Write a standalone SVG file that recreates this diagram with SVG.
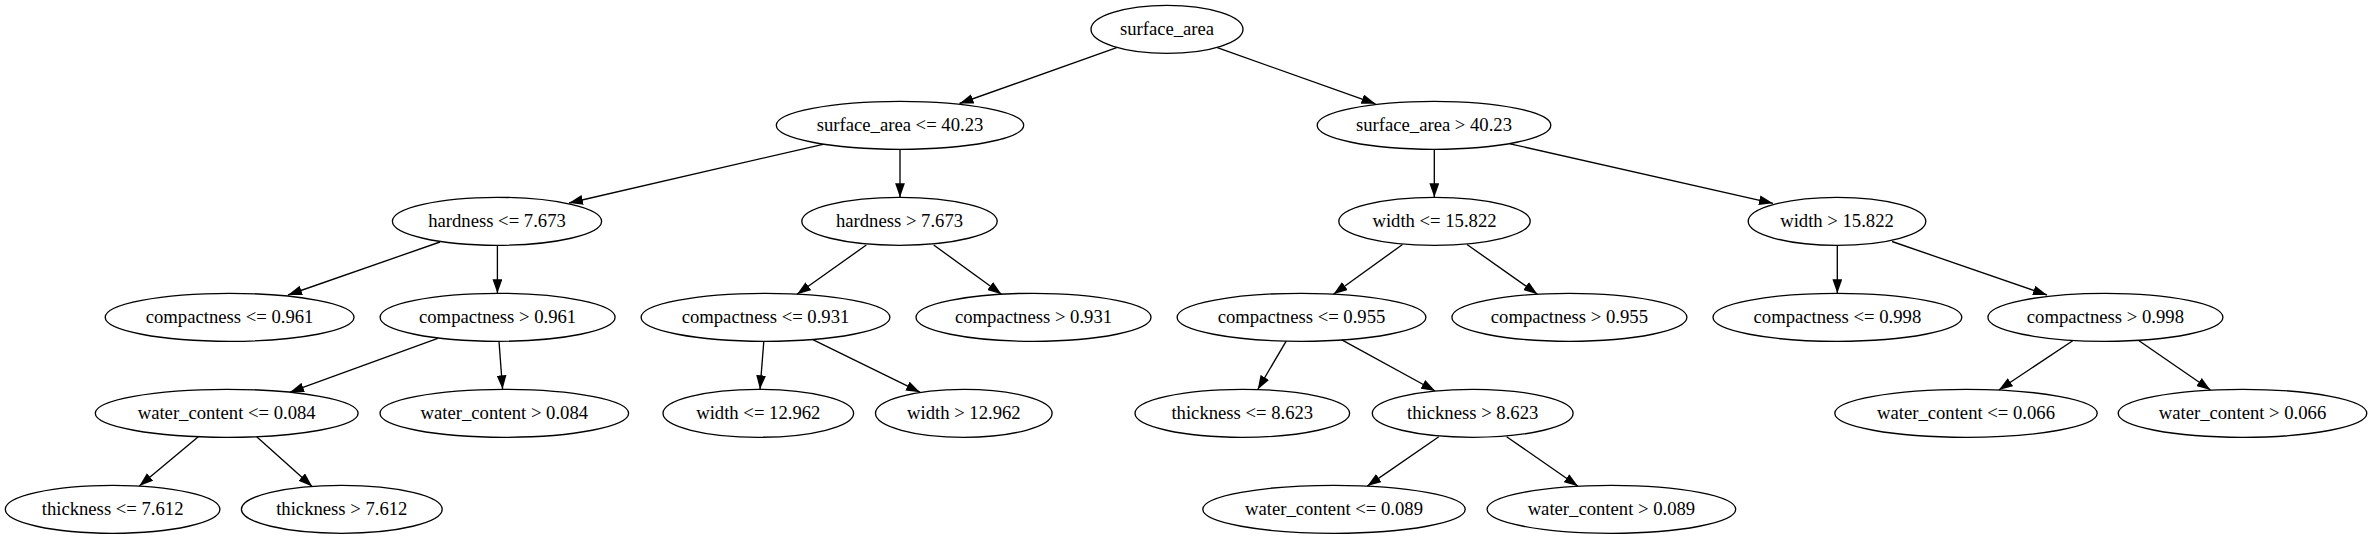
<svg xmlns="http://www.w3.org/2000/svg" width="2372" height="539" viewBox="0 0 2372 539">
<style>
.n ellipse{fill:none;stroke:#000;stroke-width:1.33}
.n text{font-family:"Liberation Serif","Times New Roman",serif;font-size:18.67px;text-anchor:middle;fill:#000}
#edges line{stroke:#000;stroke-width:1.33;marker-end:url(#ah)}
</style>
<defs>
<marker id="ah" markerUnits="userSpaceOnUse" markerWidth="14" markerHeight="10" refX="13.33" refY="4.67" orient="auto" viewBox="0 0 13.33 9.33">
<path d="M0,0 L13.33,4.67 L0,9.33 z" fill="#000"/>
</marker>
</defs>
<rect width="2372" height="539" fill="#fff"/>
<g id="edges">
<line x1="1116.7" y1="47.7" x2="959.5" y2="103.5"/>
<line x1="1217.3" y1="47.7" x2="1375.5" y2="103.8"/>
<line x1="823" y1="144.3" x2="569" y2="203"/>
<line x1="900" y1="149.3" x2="900" y2="197.3"/>
<line x1="1434.3" y1="149.3" x2="1434.3" y2="197.3"/>
<line x1="1510" y1="143.8" x2="1773" y2="203.3"/>
<line x1="440" y1="242" x2="288" y2="295"/>
<line x1="497.4" y1="245.3" x2="497.4" y2="293.3"/>
<line x1="866.3" y1="245" x2="797" y2="294.3"/>
<line x1="933.7" y1="245" x2="1001.5" y2="294.2"/>
<line x1="1402.5" y1="244.5" x2="1333.5" y2="294.2"/>
<line x1="1467" y1="244.5" x2="1537.5" y2="294.2"/>
<line x1="1837.3" y1="245.3" x2="1837.3" y2="293.3"/>
<line x1="1892" y1="241.5" x2="2047" y2="295"/>
<line x1="437.8" y1="338.3" x2="290" y2="392.2"/>
<line x1="499" y1="341.5" x2="502.6" y2="389.3"/>
<line x1="763.8" y1="341.5" x2="760" y2="389.3"/>
<line x1="812.8" y1="339.7" x2="920" y2="392.2"/>
<line x1="1286.2" y1="341.2" x2="1257.7" y2="389.5"/>
<line x1="1341.8" y1="339.8" x2="1435.2" y2="391"/>
<line x1="2072.7" y1="340.7" x2="1998.8" y2="390"/>
<line x1="2139" y1="340.7" x2="2210.5" y2="390"/>
<line x1="198.3" y1="436.7" x2="139.3" y2="486"/>
<line x1="256.7" y1="436.7" x2="312.2" y2="486.4"/>
<line x1="1438.8" y1="436.7" x2="1367.3" y2="486.1"/>
<line x1="1506.6" y1="436.7" x2="1578" y2="486.2"/>
</g>
<g id="n0" class="n"><ellipse cx="1167" cy="29.3" rx="76" ry="24"/><text x="1167" y="35.3">surface_area</text></g>
<g id="n1" class="n"><ellipse cx="900" cy="125.3" rx="123.7" ry="24"/><text x="900" y="131.3">surface_area &lt;= 40.23</text></g>
<g id="n2" class="n"><ellipse cx="1434" cy="125.3" rx="116.8" ry="24"/><text x="1434" y="131.3">surface_area &gt; 40.23</text></g>
<g id="n3" class="n"><ellipse cx="497" cy="221.3" rx="104.6" ry="24"/><text x="497" y="227.3">hardness &lt;= 7.673</text></g>
<g id="n4" class="n"><ellipse cx="899.5" cy="221.3" rx="97.7" ry="24"/><text x="899.5" y="227.3">hardness &gt; 7.673</text></g>
<g id="n5" class="n"><ellipse cx="1434.5" cy="221.3" rx="95.7" ry="24"/><text x="1434.5" y="227.3">width &lt;= 15.822</text></g>
<g id="n6" class="n"><ellipse cx="1837" cy="221.3" rx="88.8" ry="24"/><text x="1837" y="227.3">width &gt; 15.822</text></g>
<g id="n7" class="n"><ellipse cx="229.6" cy="317.3" rx="124.4" ry="24"/><text x="229.6" y="323.3">compactness &lt;= 0.961</text></g>
<g id="n8" class="n"><ellipse cx="497.6" cy="317.3" rx="117.5" ry="24"/><text x="497.6" y="323.3">compactness &gt; 0.961</text></g>
<g id="n9" class="n"><ellipse cx="765.5" cy="317.3" rx="124.4" ry="24"/><text x="765.5" y="323.3">compactness &lt;= 0.931</text></g>
<g id="n10" class="n"><ellipse cx="1033.5" cy="317.3" rx="117.5" ry="24"/><text x="1033.5" y="323.3">compactness &gt; 0.931</text></g>
<g id="n11" class="n"><ellipse cx="1301.5" cy="317.3" rx="124.4" ry="24"/><text x="1301.5" y="323.3">compactness &lt;= 0.955</text></g>
<g id="n12" class="n"><ellipse cx="1569.4" cy="317.3" rx="117.5" ry="24"/><text x="1569.4" y="323.3">compactness &gt; 0.955</text></g>
<g id="n13" class="n"><ellipse cx="1837.4" cy="317.3" rx="124.4" ry="24"/><text x="1837.4" y="323.3">compactness &lt;= 0.998</text></g>
<g id="n14" class="n"><ellipse cx="2105.4" cy="317.3" rx="117.5" ry="24"/><text x="2105.4" y="323.3">compactness &gt; 0.998</text></g>
<g id="n15" class="n"><ellipse cx="226.7" cy="413.3" rx="131.4" ry="24"/><text x="226.7" y="419.3">water_content &lt;= 0.084</text></g>
<g id="n16" class="n"><ellipse cx="504.3" cy="413.3" rx="124.3" ry="24"/><text x="504.3" y="419.3">water_content &gt; 0.084</text></g>
<g id="n17" class="n"><ellipse cx="758.3" cy="413.3" rx="95.3" ry="24"/><text x="758.3" y="419.3">width &lt;= 12.962</text></g>
<g id="n18" class="n"><ellipse cx="963.8" cy="413.3" rx="88.3" ry="24"/><text x="963.8" y="419.3">width &gt; 12.962</text></g>
<g id="n19" class="n"><ellipse cx="1242.3" cy="413.3" rx="107.3" ry="24"/><text x="1242.3" y="419.3">thickness &lt;= 8.623</text></g>
<g id="n20" class="n"><ellipse cx="1472.7" cy="413.3" rx="100.4" ry="24"/><text x="1472.7" y="419.3">thickness &gt; 8.623</text></g>
<g id="n21" class="n"><ellipse cx="1966" cy="413.3" rx="131.2" ry="24"/><text x="1966" y="419.3">water_content &lt;= 0.066</text></g>
<g id="n22" class="n"><ellipse cx="2242.5" cy="413.3" rx="124.3" ry="24"/><text x="2242.5" y="419.3">water_content &gt; 0.066</text></g>
<g id="n23" class="n"><ellipse cx="112.6" cy="509.3" rx="107.3" ry="24"/><text x="112.6" y="515.3">thickness &lt;= 7.612</text></g>
<g id="n24" class="n"><ellipse cx="341.8" cy="509.3" rx="100.4" ry="24"/><text x="341.8" y="515.3">thickness &gt; 7.612</text></g>
<g id="n25" class="n"><ellipse cx="1334" cy="509.3" rx="131.2" ry="24"/><text x="1334" y="515.3">water_content &lt;= 0.089</text></g>
<g id="n26" class="n"><ellipse cx="1611.4" cy="509.3" rx="124.3" ry="24"/><text x="1611.4" y="515.3">water_content &gt; 0.089</text></g>
</svg>
